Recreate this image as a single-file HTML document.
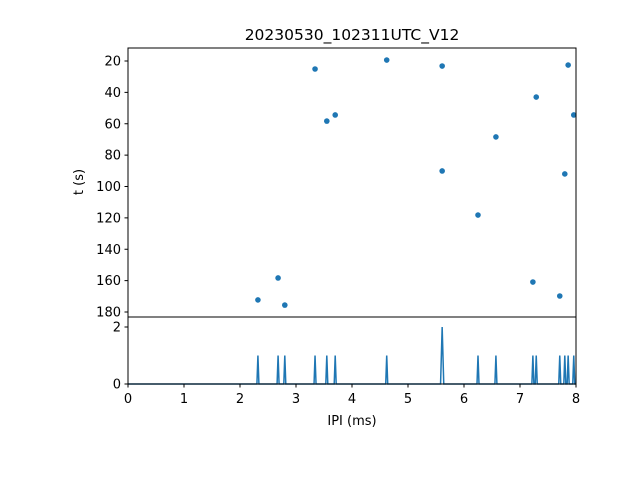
<!DOCTYPE html>
<html><head><meta charset="utf-8"><style>
body{margin:0;background:#fff}
svg{display:block;font-family:"DejaVu Sans","Liberation Sans",sans-serif}
</style></head><body>
<svg id="chart" width="640" height="480"></svg>
<script>
const ipi = [2.32,2.68,2.80,3.34,3.55,3.70,4.62,5.61,5.61,6.25,6.57,7.23,7.29,7.71,7.86,7.80,7.96];
const times = [172.3,158.3,175.6,25.1,58.3,54.4,19.4,23.2,90.1,118.2,68.4,160.9,43.0,169.8,22.6,92.0,54.4];
const yTicks = [20,40,60,80,100,120,140,160,180];
const xTicks = [0,1,2,3,4,5,6,7,8];
const hTicks = [0,2];
const NS="http://www.w3.org/2000/svg", svg=document.getElementById('chart');
const L=128,R=576,T1=48,B1=317,B2=384;
const xs=v=>L+(v-0)/8*(R-L);
const ys=v=>61+(v-20)*(251/160);
const hs=v=>384-v*28.5;
function mk(t,a,p){const e=document.createElementNS(NS,t);for(const k in a)e.setAttribute(k,a[k]);(p||svg).appendChild(e);return e;}
ipi.forEach((v,i)=>{const c=mk('circle',{cx:xs(v),cy:ys(times[i]),r:2.8,fill:'#1f77b4'});

});
const counts={};ipi.forEach(v=>{const k=v.toFixed(2);counts[k]=(counts[k]||0)+1;});
let d='M'+L+','+B2;
Object.keys(counts).sort((a,b)=>Number(a)-Number(b)).forEach(k=>{const v=Number(k),n=counts[k],x=xs(v),w=n>1?1.6:1;d+=` L${x-w},${B2} L${x},${hs(n)} L${x+w},${B2}`;});
d+=` L${R},${B2}`;
const hp=mk('path',{d:d,fill:'none',stroke:'#1f77b4','stroke-width':1.5});


const f1=mk('rect',{x:L,y:T1,width:R-L,height:B1-T1,fill:'none',stroke:'#000','stroke-width':1});


const f2=mk('rect',{x:L,y:B1,width:R-L,height:B2-B1,fill:'none',stroke:'#000','stroke-width':1});


yTicks.forEach(v=>{const y=ys(v);mk('line',{x1:L-3.5,x2:L,y1:y,y2:y,stroke:'#000'});
const t=mk('text',{x:L-7,y:y+4.5,'text-anchor':'end','font-size':13});t.textContent=v;

});
hTicks.forEach(v=>{const y=hs(v);mk('line',{x1:L-3.5,x2:L,y1:y,y2:y,stroke:'#000'});
const t=mk('text',{x:L-7,y:y+4.5,'text-anchor':'end','font-size':13});t.textContent=v;

});
xTicks.forEach(v=>{const x=xs(v);mk('line',{x1:x,x2:x,y1:B2,y2:B2+3.5,stroke:'#000'});
const t=mk('text',{x:x,y:B2+19,'text-anchor':'middle','font-size':13});t.textContent=v;

});
const ti=mk('text',{x:352,y:40,'text-anchor':'middle','font-size':15.5});ti.textContent='20230530_102311UTC_V12';


const xl=mk('text',{x:352,y:425,'text-anchor':'middle','font-size':13});xl.textContent='IPI (ms)';


const yl=mk('text',{x:83,y:182,'text-anchor':'middle','font-size':13,transform:'rotate(-90 83 182)'});yl.textContent='t (s)';


</script>
</body></html>
